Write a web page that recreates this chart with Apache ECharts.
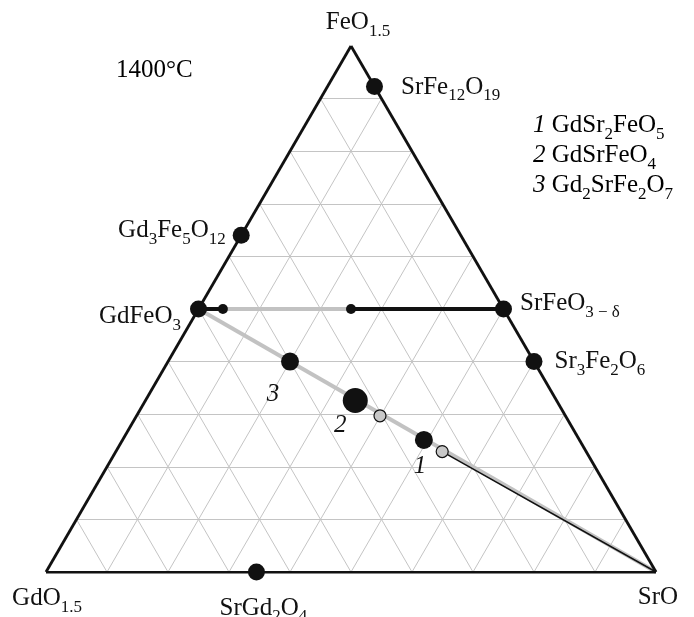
<!DOCTYPE html>
<html>
<head>
<meta charset="utf-8">
<script src="https://cdn.jsdelivr.net/npm/echarts@6/dist/echarts.min.js"></script>
<style>
  html, body { margin: 0; padding: 0; background: #fff; }
  #chart { width: 694px; height: 617px; }
</style>
</head>
<body>
<div id="chart"></div>
<script>
// Compositions are mole fractions [GdO1.5, SrO, FeO1.5]; text inside {} is a subscript.
const vertexLabels = ['GdO{1.5}', 'SrO', 'FeO{1.5}'];
const vertexComps = [[1, 0, 0], [0, 1, 0], [0, 0, 1]];

const phaseLabels = ['SrFe{12}O{19}', 'Gd{3}Fe{5}O{12}', 'GdFeO{3}', 'SrFeO{3 − δ}', 'Sr{3}Fe{2}O{6}', 'SrGd{2}O{4}'];
const phaseComps = [
  [0, 0.077, 0.923],
  [0.36, 0, 0.64],
  [0.5, 0, 0.5],
  [0, 0.5, 0.5],
  [0, 0.6, 0.4],
  [0.655, 0.345, 0]
];

const numberedTags = ['1', '2', '3'];
const numberedLabels = ['GdSr{2}FeO{5}', 'GdSrFeO{4}', 'Gd{2}SrFe{2}O{7}'];
const numberedComps = [
  [0.255, 0.494, 0.251],
  [0.33, 0.344, 0.326],
  [0.4, 0.2, 0.4]
];

const openComps = [
  [0.304, 0.399, 0.297],
  [0.236, 0.535, 0.229]
];

const smallDotComps = [
  [0.46, 0.04, 0.5],
  [0.25, 0.25, 0.5]
];

// Tie lines
const blackTies = [
  [[0.5, 0, 0.5], [0.46, 0.04, 0.5]],
  [[0.25, 0.25, 0.5], [0, 0.5, 0.5]]
];
const greyTies = [
  [[0.46, 0.04, 0.5], [0.25, 0.25, 0.5]],
  [[0.5, 0, 0.5], [0, 1, 0]]
];
const thinTies = [
  [[0.236, 0.535, 0.229], [0, 1, 0]]
];

const gridSteps = [0.1, 0.2, 0.3, 0.4, 0.5, 0.6, 0.7, 0.8, 0.9];

const H = Math.sqrt(3) / 2;
function toXY(c) { return [c[1] + c[2] / 2, c[2] * H]; }

const FONT = "'Liberation Serif', 'Times New Roman', serif";
const INK = '#111111';
const rich = {
  n: { fontFamily: FONT, fontSize: 25, color: INK, lineHeight: 30, verticalAlign: 'top' },
  s: { fontFamily: FONT, fontSize: 17, color: INK, lineHeight: 18, verticalAlign: 'top', padding: [13, 0, 0, 0] },
  i: { fontFamily: FONT, fontSize: 25, color: INK, fontStyle: 'italic', lineHeight: 30, verticalAlign: 'top' }
};
function toRich(str) {
  let out = '';
  const re = /\{([^}]*)\}|([^{]+)/g;
  let m;
  while ((m = re.exec(str)) !== null) {
    if (m[1] !== undefined) out += '{s|' + m[1] + '}';
    else out += '{n|' + m[2] + '}';
  }
  return out;
}

// Ternary grid lines
const gridLines = [];
gridSteps.forEach(t => {
  gridLines.push({ coords: [toXY([1 - t, 0, t]), toXY([0, 1 - t, t])] });
  gridLines.push({ coords: [toXY([t, 0, 1 - t]), toXY([t, 1 - t, 0])] });
  gridLines.push({ coords: [toXY([0, t, 1 - t]), toXY([1 - t, t, 0])] });
});
const edges = [
  { coords: [toXY(vertexComps[0]), toXY(vertexComps[1])] },
  { coords: [toXY(vertexComps[1]), toXY(vertexComps[2])] },
  { coords: [toXY(vertexComps[2]), toXY(vertexComps[0])] }
];
const segs = list => list.map(s => ({ coords: [toXY(s[0]), toXY(s[1])] }));

// Label placement for the named phases
const phaseLabelPos = [
  { position: 'right', distance: 18, offset: [0, 3] },
  { position: 'left', distance: 7, offset: [0, -2] },
  { position: 'left', distance: 9, offset: [0, 10] },
  { position: 'right', distance: 8, offset: [0, -3] },
  { position: 'right', distance: 12, offset: [0, 2] },
  { position: 'bottom', distance: 15, offset: [7, 0] }
];
const vertexLabelPos = [
  { position: 'bottom', distance: 14, offset: [1, 0] },
  { position: 'bottom', distance: 13, offset: [2, 0] },
  { position: 'top', distance: 6, offset: [7, 0] }
];
const tagOffsets = [[-4, 29], [-15, 27], [-17, 35]];

const chart = echarts.init(document.getElementById('chart'), null, { renderer: 'canvas' });

const option = {
  backgroundColor: '#ffffff',
  animation: false,
  grid: { left: 46, top: 46, width: 610, height: 526 },
  xAxis: { type: 'value', min: 0, max: 1, show: false },
  yAxis: { type: 'value', min: 0, max: H, show: false },
  graphic: [
    { type: 'text', left: 116, top: 58, style: { text: '{n|1400°C}', rich } },
    { type: 'text', left: 533, top: 113, style: { text: '{i|1 }' + toRich(numberedLabels[0]), rich } },
    { type: 'text', left: 533, top: 143, style: { text: '{i|2 }' + toRich(numberedLabels[1]), rich } },
    { type: 'text', left: 533, top: 173, style: { text: '{i|3 }' + toRich(numberedLabels[2]), rich } }
  ],
  series: [
    {
      type: 'lines', coordinateSystem: 'cartesian2d', silent: true, z: 1,
      lineStyle: { color: '#c4c4c4', width: 1, opacity: 1 },
      data: gridLines
    },
    {
      type: 'lines', coordinateSystem: 'cartesian2d', silent: true, z: 2,
      lineStyle: { color: '#c2c2c2', width: 4, opacity: 1 },
      data: segs(greyTies)
    },
    {
      type: 'lines', coordinateSystem: 'cartesian2d', silent: true, z: 3,
      lineStyle: { color: INK, width: 1.5, opacity: 1 },
      data: segs(thinTies)
    },
    {
      type: 'lines', coordinateSystem: 'cartesian2d', silent: true, z: 3,
      lineStyle: { color: INK, width: 4, opacity: 1 },
      data: segs(blackTies)
    },
    {
      type: 'lines', coordinateSystem: 'cartesian2d', silent: true, z: 4,
      lineStyle: { color: INK, width: 2.8, opacity: 1 },
      data: edges
    },
    {
      type: 'scatter', z: 5, symbol: 'circle', symbolSize: 0,
      itemStyle: { color: 'transparent', opacity: 1 },
      data: vertexComps.map((c, k) => ({
        value: toXY(c),
        label: Object.assign({ show: true, formatter: toRich(vertexLabels[k]), rich }, vertexLabelPos[k])
      }))
    },
    {
      type: 'scatter', z: 6, symbol: 'circle', symbolSize: 17,
      itemStyle: { color: INK, opacity: 1 },
      data: phaseComps.map((c, k) => ({
        value: toXY(c),
        label: Object.assign({ show: true, formatter: toRich(phaseLabels[k]), rich }, phaseLabelPos[k])
      }))
    },
    {
      type: 'scatter', z: 6, symbol: 'circle', symbolSize: 10,
      itemStyle: { color: INK, opacity: 1 },
      data: smallDotComps.map(c => toXY(c))
    },
    {
      type: 'scatter', z: 6, symbol: 'circle',
      itemStyle: { color: INK, opacity: 1 },
      symbolSize: (v, p) => (p.dataIndex === 1 ? 25 : 18),
      data: numberedComps.map((c, k) => ({
        value: toXY(c),
        label: {
          show: true, position: 'inside', offset: tagOffsets[k],
          formatter: '{i|' + numberedTags[k] + '}', rich
        }
      }))
    },
    {
      type: 'scatter', z: 7, symbol: 'circle', symbolSize: 12,
      itemStyle: { color: '#c8c8c8', borderColor: INK, borderWidth: 1.2, opacity: 1 },
      data: openComps.map(c => toXY(c))
    }
  ]
};
chart.setOption(option);
</script>
</body>
</html>
